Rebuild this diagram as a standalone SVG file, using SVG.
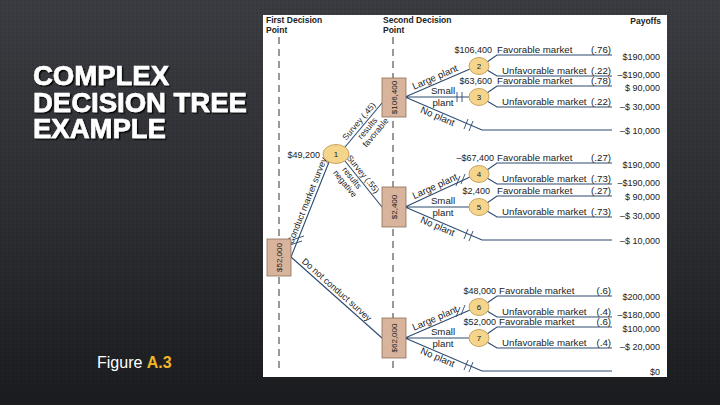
<svg xmlns="http://www.w3.org/2000/svg" width="720" height="405" viewBox="0 0 720 405">
<defs>
<linearGradient id="bg" x1="0" y1="0" x2="0" y2="1">
<stop offset="0" stop-color="#3b3d42"/>
<stop offset="0.6" stop-color="#2a2c30"/>
<stop offset="1" stop-color="#1b1c1f"/>
</linearGradient>
<pattern id="dots" width="4" height="4" patternUnits="userSpaceOnUse">
<circle cx="1" cy="1" r="0.8" fill="#000" fill-opacity="0.18"/>
</pattern>
<filter id="sh" x="-5%" y="-20%" width="115%" height="150%">
<feDropShadow dx="1.5" dy="1.5" stdDeviation="0.6" flood-color="#000" flood-opacity="0.85"/>
</filter>
<style>
.title{font-family:"Liberation Sans",Arial,sans-serif;font-weight:bold;font-size:27.5px;fill:#fff;stroke:#fff;stroke-width:0.6}
.hdr{font-family:"Liberation Sans",Arial,sans-serif;font-weight:bold;font-size:8.5px;fill:#222}
.t{font-family:"Liberation Sans",Arial,sans-serif;font-size:9px;fill:#222}
.o{font-family:"Liberation Sans",Arial,sans-serif;font-size:9.7px;fill:#222}
.s{font-family:"Liberation Sans",Arial,sans-serif;font-size:8.5px;fill:#222}
.n{font-family:"Liberation Sans",Arial,sans-serif;font-size:8px;fill:#222;text-anchor:middle}
.e{text-anchor:end}
.m{text-anchor:middle}
.ln{fill:none;stroke:#2d4a70;stroke-width:1.1}
.hash{fill:none;stroke:#2d4a70;stroke-width:0.9}
.dash{stroke:#333;stroke-width:1;stroke-dasharray:7 5}
.box{fill:#d8b49c;stroke:#8c6e5c;stroke-width:0.8}
.chance{fill:#f5d48c;stroke:#c49c55;stroke-width:0.9}
</style>
</defs>
<rect width="720" height="405" fill="url(#bg)"/>
<rect width="720" height="405" fill="url(#dots)"/>
<g id="title" filter="url(#sh)">
<text class="title" x="33" y="85">COMPLEX</text>
<text class="title" x="33" y="111.5">DECISION TREE</text>
<text class="title" x="33" y="138">EXAMPLE</text>
</g>
<g id="caption">
<text x="97" y="368" font-family="'Liberation Sans',Arial,sans-serif" font-size="16" fill="#fff">Figure <tspan font-weight="bold" fill="#f2b526">A.3</tspan></text>
</g>
<rect x="263" y="15" width="404" height="362" fill="#fff"/>
<g id="headers">
<text class="hdr" x="266" y="23">First Decision</text>
<text class="hdr" x="266" y="32.5">Point</text>
<text class="hdr" x="383" y="23">Second Decision</text>
<text class="hdr" x="383" y="32.5">Point</text>
<text class="hdr e" x="661" y="24">Payoffs</text>
</g>
<g id="guides">
<line class="dash" x1="279" y1="37" x2="279" y2="373"/>
<line class="dash" x1="393" y1="37" x2="393" y2="373"/>
</g>
<g id="connectors">
<path class="ln" d="M291,257 L329,162"/>
<path class="ln" d="M291,257 L382,338"/>
<path class="ln" d="M345,147 L382,103"/>
<path class="ln" d="M345,161 L382,207"/>
<path class="ln" d="M405,97 L470,69 M405,97 L469,97 M405,97 L482,130 L612,130"/>
<path class="ln" d="M405,207 L470,177 M405,207 L469,207 M405,207 L482,240 L612,240"/>
<path class="ln" d="M405,338 L470,310 M405,338 L469,338 M405,338 L482,371 L612,371"/>
<path class="ln" d="M487,62 L497,55 L612,55 M487,70 L497,76 L612,76"/>
<path class="ln" d="M487,93 L497,86 L612,86 M487,101 L497,107 L612,107"/>
<path class="ln" d="M487,170 L497,163 L612,163 M487,178 L497,184 L612,184"/>
<path class="ln" d="M487,203 L497,196 L612,196 M487,211 L497,217 L612,217"/>
<path class="ln" d="M487,303 L497,296 L612,296 M487,311 L497,317 L612,317"/>
<path class="ln" d="M487,334 L497,327 L612,327 M487,342 L497,348 L612,348"/>
<path class="hash" d="M292,240 L304,236 M290,245 L302,241"/>
<path class="hash" d="M457,92 L457,102 M462,92 L462,102"/>
<path class="hash" d="M464,129 L468,119 M469,131 L473,121"/>
<path class="hash" d="M456,186 L460,176 M461,184 L465,174"/>
<path class="hash" d="M464,239 L468,229 M469,241 L473,231"/>
<path class="hash" d="M456,317 L460,307 M461,315 L465,305"/>
<path class="hash" d="M464,370 L468,360 M469,372 L473,362"/>
</g>
<g id="labels">
<text class="t m" transform="translate(310,209.5) rotate(-68.2)" x="7" y="-3">Conduct market survey</text>
<text class="t m" transform="translate(336.5,297.5) rotate(41.7)" x="-5" y="-3">Do not conduct survey</text>
<text class="s m" transform="translate(363.5,125) rotate(-50)" x="0" y="-3">Survey (.45)</text>
<text class="s m" transform="translate(363.5,125) rotate(-50)" x="0" y="8">results</text>
<text class="s m" transform="translate(363.5,125) rotate(-50)" x="2" y="17">favorable</text>
<text class="s m" transform="translate(363.5,184) rotate(51)" x="-8" y="-3">Survey (.55)</text>
<text class="s m" transform="translate(363.5,184) rotate(51)" x="-12" y="8">results</text>
<text class="s m" transform="translate(363.5,184) rotate(51)" x="-12" y="17">negative</text>
<text class="o m" transform="translate(437.5,83) rotate(-23.3)" y="-3">Large plant</text>
<text class="o m" transform="translate(437.5,192) rotate(-24.5)" y="-3">Large plant</text>
<text class="o m" transform="translate(437.5,324) rotate(-23.3)" y="-3">Large plant</text>
<text class="o m" x="443" y="94">Small</text><text class="o m" x="443" y="106">plant</text>
<text class="o m" x="443" y="204">Small</text><text class="o m" x="443" y="216">plant</text>
<text class="o m" x="443" y="335">Small</text><text class="o m" x="443" y="347">plant</text>
<text class="o m" transform="translate(440,111) rotate(23.2)" y="9">No plant</text>
<text class="o m" transform="translate(440,221) rotate(23.2)" y="9">No plant</text>
<text class="o m" transform="translate(440,352) rotate(23.2)" y="9">No plant</text>
<text class="t e" x="320" y="157.5">$49,200</text>
<text class="t e" x="492" y="52.5">$106,400</text>
<text class="t e" x="492" y="83.5">$63,600</text>
<text class="t e" x="494" y="160.5">–$67,400</text>
<text class="t e" x="490" y="193.5">$2,400</text>
<text class="t e" x="496" y="293.5">$48,000</text>
<text class="t e" x="496" y="324.5">$52,000</text>
</g>
<g id="outcomes">
<text class="o" x="497" y="52.5">Favorable market</text><text class="o e" x="611" y="52.5">(.76)</text>
<text class="o" x="502" y="73.5">Unfavorable market</text><text class="o e" x="611" y="73.5">(.22)</text>
<text class="o" x="497" y="83.5">Favorable market</text><text class="o e" x="611" y="83.5">(.78)</text>
<text class="o" x="502" y="104.5">Unfavorable market</text><text class="o e" x="611" y="104.5">(.22)</text>
<text class="o" x="497" y="160.5">Favorable market</text><text class="o e" x="611" y="160.5">(.27)</text>
<text class="o" x="502" y="181.5">Unfavorable market</text><text class="o e" x="611" y="181.5">(.73)</text>
<text class="o" x="497" y="193.5">Favorable market</text><text class="o e" x="611" y="193.5">(.27)</text>
<text class="o" x="502" y="214.5">Unfavorable market</text><text class="o e" x="611" y="214.5">(.73)</text>
<text class="o" x="499" y="293.5">Favorable market</text><text class="o e" x="611" y="293.5">(.6)</text>
<text class="o" x="502" y="314.5">Unfavorable market</text><text class="o e" x="611" y="314.5">(.4)</text>
<text class="o" x="499" y="324.5">Favorable market</text><text class="o e" x="611" y="324.5">(.6)</text>
<text class="o" x="502" y="345.5">Unfavorable market</text><text class="o e" x="611" y="345.5">(.4)</text>
</g>
<g id="payoffs">
<text class="t e" x="660" y="60">$190,000</text>
<text class="t e" x="660" y="78">–$190,000</text>
<text class="t e" x="660" y="91">$  90,000</text>
<text class="t e" x="660" y="110">–$  30,000</text>
<text class="t e" x="660" y="134">–$  10,000</text>
<text class="t e" x="660" y="168">$190,000</text>
<text class="t e" x="660" y="186">–$190,000</text>
<text class="t e" x="660" y="200">$  90,000</text>
<text class="t e" x="660" y="219">–$  30,000</text>
<text class="t e" x="660" y="244">–$  10,000</text>
<text class="t e" x="660" y="300">$200,000</text>
<text class="t e" x="660" y="318">–$180,000</text>
<text class="t e" x="660" y="332">$100,000</text>
<text class="t e" x="660" y="350">–$  20,000</text>
<text class="t e" x="660" y="375">$0</text>
</g>
<g id="node-a"><rect class="box" x="267" y="239" width="24" height="37"/><text class="n" transform="translate(279,257.5) rotate(-90)" y="3">$52,000</text></g>
<g id="node-b"><rect class="box" x="382" y="78" width="24" height="39"/><text class="n" transform="translate(394,97.5) rotate(-90)" y="3">$106,400</text></g>
<g id="node-c"><rect class="box" x="382" y="187" width="24" height="40"/><text class="n" transform="translate(394,207) rotate(-90)" y="3">$2,400</text></g>
<g id="node-d"><rect class="box" x="382" y="318" width="24" height="40"/><text class="n" transform="translate(394,338) rotate(-90)" y="3">$62,000</text></g>
<g id="node-1"><ellipse class="chance" cx="336" cy="154" rx="13" ry="9.5"/><text class="n" x="336" y="157">1</text></g>
<g id="node-2"><ellipse class="chance" cx="479" cy="66" rx="10" ry="8.5"/><text class="n" x="479" y="69">2</text></g>
<g id="node-3"><ellipse class="chance" cx="479" cy="97" rx="10" ry="8.5"/><text class="n" x="479" y="100">3</text></g>
<g id="node-4"><ellipse class="chance" cx="479" cy="174" rx="10" ry="8.5"/><text class="n" x="479" y="177">4</text></g>
<g id="node-5"><ellipse class="chance" cx="479" cy="207" rx="10" ry="8.5"/><text class="n" x="479" y="210">5</text></g>
<g id="node-6"><ellipse class="chance" cx="479" cy="307" rx="10" ry="8.5"/><text class="n" x="479" y="310">6</text></g>
<g id="node-7"><ellipse class="chance" cx="479" cy="338" rx="10" ry="8.5"/><text class="n" x="479" y="341">7</text></g>
</svg>
